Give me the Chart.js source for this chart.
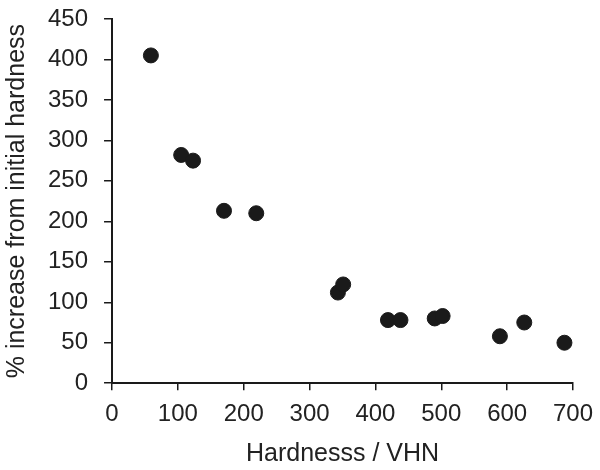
<!DOCTYPE html>
<html>
<head>
<meta charset="utf-8">
<script src="https://cdn.jsdelivr.net/npm/chart.js@4.4.0/dist/chart.umd.min.js"></script>
<style>
  html, body { margin: 0; padding: 0; background: #fff; }
  #wrap { width: 600px; height: 470px; }
</style>
</head>
<body>
<div id="wrap"><canvas id="chart"></canvas></div>
<script>
// Data
const hardness = [59, 105, 123, 170, 219, 343, 351, 419, 438, 490, 502, 589, 626, 687];
const increase = [405, 282, 275, 213, 210, 112, 122, 78, 78, 80, 83, 58, 75, 50];
const xTicks = [0, 100, 200, 300, 400, 500, 600, 700];
const yTicks = [0, 50, 100, 150, 200, 250, 300, 350, 400, 450];

const points = hardness.map((h, i) => ({ x: h, y: increase[i] }));
const font = { family: '"Liberation Sans", Arial, sans-serif', size: 24 };
const titleFont = { family: '"Liberation Sans", Arial, sans-serif', size: 25 };

new Chart(document.getElementById('chart'), {
  type: 'scatter',
  data: {
    datasets: [{
      data: points,
      backgroundColor: '#1a1a1a',
      borderColor: '#1a1a1a',
      pointRadius: 7.5,
      pointHoverRadius: 7.5
    }]
  },
  options: {
    responsive: true,
    maintainAspectRatio: false,
    animation: false,
    layout: { padding: { left: 2, right: 27, top: 19, bottom: 1 } },
    plugins: { legend: { display: false }, tooltip: { enabled: false } },
    scales: {
      x: {
        type: 'linear',
        min: 0, max: 700,
        afterBuildTicks: s => { s.ticks = xTicks.map(v => ({ value: v })); },
        afterFit: s => { s.paddingLeft = 0; s.paddingRight = 0; },
        border: { display: true, color: '#1a1a1a', width: 2 },
        grid: { drawOnChartArea: false, drawTicks: true, tickLength: 7, color: '#1a1a1a', lineWidth: 1.5 },
        ticks: { color: '#222', font: font, padding: 10, maxRotation: 0 },
        title: { display: true, text: 'Hardnesss / VHN', color: '#222', font: titleFont, padding: { top: 0, bottom: 0 } }
      },
      y: {
        type: 'linear',
        min: 0, max: 450,
        afterBuildTicks: s => { s.ticks = yTicks.map(v => ({ value: v })); },
        afterFit: s => { s.paddingTop = 0; s.paddingBottom = 0; },
        border: { display: true, color: '#1a1a1a', width: 2 },
        grid: { drawOnChartArea: false, drawTicks: true, tickLength: 8, color: '#1a1a1a', lineWidth: 1.5 },
        ticks: { color: '#222', font: font, padding: 16 },
        title: { display: true, text: '% increase from initial hardness', color: '#222', font: titleFont, padding: { top: 0, bottom: 0 } }
      }
    }
  }
});
</script>
</body>
</html>
